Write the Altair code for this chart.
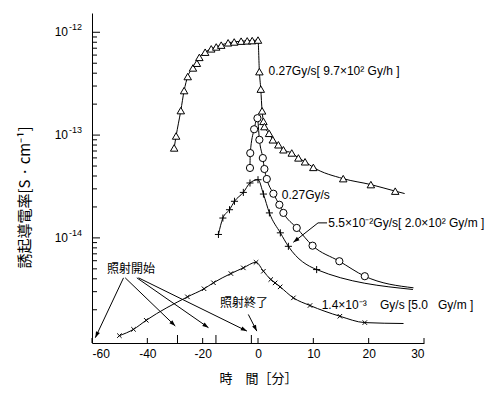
import math
import altair as alt
import pandas as pd

# ---------------- data (time in minutes, conductivity in S/cm) ----------------
# Triangles: 0.27 Gy/s [9.7x10^2 Gy/h]
tri_t = [-30.3, -29.6, -27.9, -26.7, -25.4, -23.5, -22.1, -21.2, -19.1, -16.9, -15.1, -13.3,
         -10.8, -8.6, -6.1, -3.9, -2.1, 0.0, 0.25, 0.5, 0.74, 0.98, 1.16, 2.0, 2.67, 3.68,
         4.59, 6.1, 7.3, 8.5, 10.0, 15.4, 20.4, 24.8, 26.5]
tri_v = [7.5e-14, 9.8e-14, 1.73e-13, 2.71e-13, 3.71e-13, 4.5e-13, 5.0e-13, 5.7e-13, 6.4e-13,
         6.9e-13, 7.2e-13, 7.5e-13, 7.9e-13, 8.05e-13, 8.2e-13, 8.25e-13, 8.3e-13, 8.4e-13,
         4.14e-13, 2.8e-13, 1.72e-13, 1.36e-13, 1.21e-13, 1.04e-13, 9.0e-14, 8.05e-14, 7.2e-14,
         6.7e-14, 6.0e-14, 5.5e-14, 4.85e-14, 3.77e-14, 3.3e-14, 2.85e-14, 2.7e-14]
tri_m = [1] * 34 + [0]

# Circles: 0.27 Gy/s
cir_t = [-2.9, -2.8, -1.4, -0.2, 0.25, 0.87, 1.16, 1.59, 2.78, 3.86, 4.59, 7.0, 9.86, 14.7, 19.3, 28.1]
cir_v = [4.79e-14, 6.68e-14, 1.14e-13, 1.46e-13, 9.0e-14, 5.98e-14, 4.68e-14, 3.74e-14, 2.69e-14,
         2.10e-14, 1.75e-14, 1.25e-14, 8.4e-15, 5.93e-15, 4.24e-15, 3.27e-15]
cir_m = [1] * 15 + [0]

# Plus: 5.5x10^-2 Gy/s [2.0x10^2 Gy/m]
plu_t = [-14.3, -12.7, -10.3, -8.5, -5.3, -2.9, 0.0, 0.98, 2.06, 4.04, 5.49, 10.6, 28.0]
plu_v = [1.08e-14, 1.56e-14, 1.88e-14, 2.27e-14, 2.77e-14, 3.42e-14, 3.68e-14, 2.67e-14, 1.75e-14,
         1.12e-14, 8.28e-15, 4.92e-15, 3.15e-15]
plu_m = [1] * 12 + [0]

# Cross: 1.4x10^-3 Gy/s [5.0 Gy/m]
crs_t = [-50.1, -45.0, -40.4, -25.5, -19.5, -16.1, -9.8, -5.3, -0.7, 0.98, 2.31, 3.09, 4.0, 6.4,
         9.4, 14.8, 19.3, 26.3]
crs_v = [1.12e-15, 1.29e-15, 1.58e-15, 2.67e-15, 3.2e-15, 3.66e-15, 4.5e-15, 5.11e-15, 5.79e-15,
         4.74e-15, 3.94e-15, 3.65e-15, 3.34e-15, 2.61e-15, 2.2e-15, 1.73e-15, 1.5e-15, 1.47e-15]
crs_m = [1] * 17 + [0]

# Axis ticks / labels
x_label_vals = [-60, -40, -20, 0, 10, 20, 30]
start_ticks = [-29.1, -15.2, -2.4]
y_major = [1e-12, 1e-13, 1e-14]
y_base = ["10", "10", "10"]
y_exp = ["-12", "-13", "-14"]
y_minor = [k * 10.0 ** e for e in (-15, -14, -13) for k in range(2, 10)]

# Annotations
NB = "\u00a0"
ann_text = ["0.27Gy/s[ 9.7×10² Gy/h ]", "0.27Gy/s", "5.5×10⁻²Gy/s[ 2.0×10² Gy/m ]",
            "1.4×10⁻³" + NB * 4 + "Gy/s" + NB + "[5.0" + NB * 3 + "Gy/m" + NB + "]",
            "照射開始", "照射終了"]
ann_t = [1.9, 4.3, 12.7, 11.5, -54.6, -13.7]
ann_v = [4.23e-13, 2.6e-14, 1.4e-14, 2.25e-15, 4.94e-15, 2.34e-15]

# Arrows: list of polylines (t, v), last point is the arrow tip
arrows = [
    [(-48.6, 4.09e-15), (-58.8, 1.07e-15)],
    [(-48.0, 4.09e-15), (-29.9, 1.39e-15)],
    [(-43.8, 4.09e-15), (-17.9, 1.34e-15)],
    [(-43.2, 4.09e-15), (-4.0, 1.24e-15)],
    [(-3.5, 1.8e-15), (-0.43, 1.24e-15)],
    [(12.48, 1.40e-14), (10.85, 1.40e-14), (6.39, 9.06e-15)],
]

# ---------------- build tables ----------------
XPX = 332 / 60.0   # px per plotted unit
YPX = 103.0        # px per decade


def xt(t):
    return t / 2.0 if t < 0 else t


rows = []
for name, ts, vs, ms in [("tri", tri_t, tri_v, tri_m), ("cir", cir_t, cir_v, cir_m),
                         ("plu", plu_t, plu_v, plu_m), ("crs", crs_t, crs_v, crs_m)]:
    for i, (t, v, m) in enumerate(zip(ts, vs, ms)):
        rows.append({"series": name, "t": t, "v": v, "m": m, "o": i})
df = pd.DataFrame(rows)

arow, heads = [], []
for k, pts in enumerate(arrows):
    for i, (t, v) in enumerate(pts):
        arow.append({"a": k, "o": i, "t": t, "v": v})
    (t0, v0), (t1, v1) = pts[-2], pts[-1]
    dx = (xt(t1) - xt(t0)) * XPX
    dy = -(math.log10(v1) - math.log10(v0)) * YPX
    ang = math.degrees(math.atan2(dx, -dy)) % 360
    heads.append({"t": t1, "v": v1, "ang": ang})
adf = pd.DataFrame(arow)
hdf = pd.DataFrame(heads)

ann = pd.DataFrame({"txt": ann_text, "t": ann_t, "v": ann_v,
                    "jp": [0, 0, 0, 0, 1, 1]})
ylab = pd.DataFrame({"v": y_major, "b": y_base, "e": y_exp})

XCALC = "datum.t < 0 ? datum.t / 2 : datum.t"
xs = alt.Scale(domain=[-30, 30], nice=False, zero=False)
ys = alt.Scale(type="log", domain=[9.5e-16, 1.54e-12], nice=False)

NUMFONT = "Liberation Sans"
JPFONT = "Noto Sans CJK JP"

xaxis = alt.Axis(values=[-30, -20, -10, 0, 10, 20, 30],
                 labelExpr="datum.value < 0 ? '' + (datum.value * 2) : '' + datum.value",
                 ticks=False, grid=False, domainColor="black", domainWidth=1,
                 labelFont=NUMFONT, labelFontSize=12, labelColor="black", labelPadding=5,
                 title="時　間［分］", titleFont=JPFONT, titleFontSize=13,
                 titleFontWeight="normal", titleColor="black", titlePadding=13)
yaxis = alt.Axis(values=y_major, labels=False,
                 ticks=False, grid=False, domainColor="black", domainWidth=1,
                 title="誘起導電率[S · cm⁻¹]", titleFont=JPFONT, titleFontSize=15,
                 titleFontWeight="normal", titleColor="black",
                 titleX=-68, titleY=184, titleAngle=270, titleAlign="center",
                 titleBaseline="middle")

base = alt.Chart(df).transform_calculate(xt=XCALC)

lines = base.mark_line(interpolate="monotone", color="black", strokeWidth=1).encode(
    x=alt.X("xt:Q", scale=xs, axis=xaxis),
    y=alt.Y("v:Q", scale=ys, axis=yaxis),
    detail="series:N",
    order="o:Q",
)

PLUS = "M-1,0L1,0M0,-1L0,1"
CROSS = "M-1,-1L1,1M-1,1L1,-1"


def markers(name, shape, size):
    return base.transform_filter(
        f"datum.series == '{name}' && datum.m == 1"
    ).mark_point(shape=shape, size=size, filled=True, color="white", stroke="black",
                 strokeWidth=1, opacity=1).encode(
        x=alt.X("xt:Q", scale=xs), y=alt.Y("v:Q", scale=ys))


m_tri = markers("tri", "triangle-up", 56)
m_cir = markers("cir", "circle", 52)
m_plu = markers("plu", PLUS, 50)
m_crs = markers("crs", CROSS, 20)

# y tick labels: "10" with raised exponent
ylab_base = alt.Chart(ylab).mark_text(align="right", baseline="middle", font=NUMFONT,
                                      fontSize=12, color="black", dx=-24).encode(
    y=alt.Y("v:Q", scale=ys), x=alt.value(0), text="b:N")
ylab_exp = alt.Chart(ylab).mark_text(align="left", baseline="middle", font=NUMFONT,
                                     fontSize=9, color="black", dx=-23, dy=-5).encode(
    y=alt.Y("v:Q", scale=ys), x=alt.value(0), text="e:N")

# axis ticks drawn inward
ytick_major = alt.Chart(pd.DataFrame({"v": y_major})).mark_rule(color="black").encode(
    y=alt.Y("v:Q", scale=ys), x=alt.value(0), x2=alt.value(8))
ytick_minor = alt.Chart(pd.DataFrame({"v": y_minor})).mark_rule(color="black").encode(
    y=alt.Y("v:Q", scale=ys), x=alt.value(0), x2=alt.value(5))
xtick_lab = alt.Chart(pd.DataFrame({"t": x_label_vals})).transform_calculate(xt=XCALC).mark_rule(
    color="black").encode(x=alt.X("xt:Q", scale=xs), y=alt.value(330), y2=alt.value(325))
xtick_start = alt.Chart(pd.DataFrame({"t": start_ticks})).transform_calculate(xt=XCALC).mark_rule(
    color="black").encode(x=alt.X("xt:Q", scale=xs), y=alt.value(330), y2=alt.value(322))

# annotations
ann_num = alt.Chart(ann).transform_filter("datum.jp == 0").transform_calculate(xt=XCALC).mark_text(
    align="left", baseline="middle", font=NUMFONT, fontSize=12, color="black").encode(
    x=alt.X("xt:Q", scale=xs), y=alt.Y("v:Q", scale=ys), text="txt:N")
ann_jp = alt.Chart(ann).transform_filter("datum.jp == 1").transform_calculate(xt=XCALC).mark_text(
    align="left", baseline="middle", font=JPFONT, fontSize=12, color="black").encode(
    x=alt.X("xt:Q", scale=xs), y=alt.Y("v:Q", scale=ys), text="txt:N")

arrow_lines = alt.Chart(adf).transform_calculate(xt=XCALC).mark_line(
    color="black", strokeWidth=1).encode(
    x=alt.X("xt:Q", scale=xs), y=alt.Y("v:Q", scale=ys), detail="a:N", order="o:Q")
arrow_heads = alt.Chart(hdf).transform_calculate(xt=XCALC).mark_point(
    shape="M0,0L0.35,1L-0.35,1Z", size=150, filled=True, color="black", opacity=1).encode(
    x=alt.X("xt:Q", scale=xs), y=alt.Y("v:Q", scale=ys), angle=alt.Angle("ang:Q", scale=None))

chart = alt.layer(
    lines, ytick_major, ytick_minor, xtick_lab, xtick_start, ylab_base, ylab_exp,
    arrow_lines, arrow_heads, m_tri, m_cir, m_plu, m_crs, ann_num, ann_jp,
).properties(
    width=332, height=330,
    autosize=alt.AutoSizeParams(type="none"),
    padding={"left": 84, "top": 5, "right": 70, "bottom": 48},
    background="white",
).configure_view(stroke=None)

chart.save("out.html", embed_options={"renderer": "svg", "actions": False})
